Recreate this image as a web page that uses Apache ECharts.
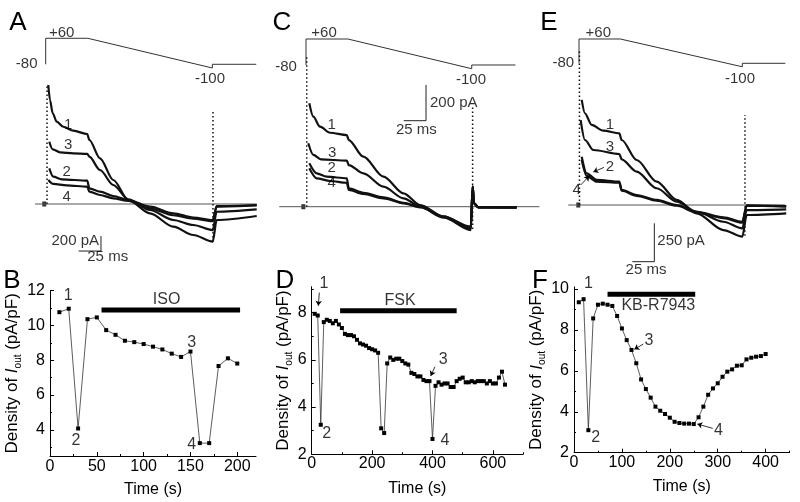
<!DOCTYPE html>
<html>
<head>
<meta charset="utf-8">
<script src="https://cdn.jsdelivr.net/npm/echarts@6/dist/echarts.min.js"></script>
<style>
html,body{margin:0;padding:0;background:#fff}
#main{width:800px;height:502px}
</style>
</head>
<body>
<div id="main"></div>
<script>
var FONT = 'Liberation Sans';

// voltage protocol (ms, mV)
var PROTO_T  = [0, 0, 47, 186, 186, 235];
var PROTO_MV = [-80, 60, 60, -100, -80, -80];

// ---- A : control / ISO current traces (ms, pA) ----
var A_TR1 = [[2.9,1586],[4.8,1386],[7.8,1209],[12.3,1097],[19.6,1030],[30.8,977],[46.4,933],[48.7,853],[60.6,609],[75.4,320],[92.2,53],[116.4,-124],[142.4,-302],[164.7,-413],[186.4,-502],[190.8,-213],[235.5,-160]];
var A_TR3 = [[4.0,830],[7.8,729],[16,689],[30.8,676],[46.4,667],[48.7,631],[60.6,453],[75.4,253],[92.2,62],[116.4,-80],[142.4,-213],[164.7,-280],[186.4,-347],[190.8,-103],[235.5,-71]];
var A_TR2 = [[4.0,476],[8.5,364],[17.9,329],[46.4,311],[48.7,209],[60.6,164],[75.4,107],[92.2,53],[116.4,-36],[142.4,-124],[164.7,-180],[186.4,-215],[190.8,-27],[235.5,-13]];
var A_TR4 = [[2.9,320],[8.5,267],[23.4,249],[46.4,231],[48.7,164],[60.6,120],[75.4,76],[92.2,40],[116.4,-57],[142.4,-150],[164.7,-195],[186.4,-228],[190.8,-35],[235.5,-20]];
var A_SPIKES = [[1.5, 0, 1586], [186.7, -500, 1230]];

// ---- C : FSK ----
var C_TR1 = [[3.7,579],[8.2,504],[15.7,448],[27,414],[45.8,401],[48,373],[64.4,280],[86.9,168],[109.4,75],[128.4,9],[154.6,-56],[184.9,-121],[187.1,112],[188.5,19],[193.4,-3],[236.4,-3]];
var C_TR3 = [[2.6,355],[8.2,290],[16.8,265],[45.8,258],[48,233],[64.4,187],[86.9,112],[109.4,47],[128.4,0],[154.6,-56],[184.9,-112],[187.1,112],[188.5,19],[193.4,-3],[236.4,-3]];
var C_TR2 = [[3.7,243],[12,187],[23.2,168],[45.8,159],[48,103],[64.4,78],[86.9,53],[109.4,22],[128.4,-3],[154.6,-56],[184.9,-121],[187.1,112],[188.5,19],[193.4,-3],[236.4,-5]];
var C_TR4 = [[3.7,215],[12,159],[27,144],[45.8,134],[48,94],[64.4,71],[86.9,47],[109.4,19],[128.4,-3],[154.6,-62],[184.9,-131],[187.1,112],[188.5,19],[193.4,-5],[236.4,-6]];
var C_SPIKES = [[0.8, 0, 840], [187, -125, 560]];

// ---- E : KB-R7943 ----
var E_TR1 = [[3.1,684],[6.8,597],[14.4,521],[27.7,484],[45.9,467],[48.6,423],[65.7,293],[88.5,152],[111.3,33],[134,-54],[164.4,-163],[186,-206],[191,-65],[236,-54]];
var E_TR3 = [[1.9,553],[6.8,423],[16.3,358],[45.9,332],[48.6,297],[65.7,217],[88.5,109],[111.3,22],[134,-44],[164.4,-109],[186,-152],[191,-33],[236,-28]];
var E_TR2 = [[3.1,314],[8.8,206],[20.2,163],[45.9,152],[48.6,98],[65.7,65],[88.5,33],[111.3,0],[134,-44],[164.4,-80],[186,-109],[191,-2],[236,-7]];
var E_TR4 = [[3.1,293],[8.8,189],[20.2,152],[45.9,145],[48.6,93],[65.7,60],[88.5,28],[111.3,-5],[134,-49],[164.4,-85],[186,-115],[191,-5],[236,-10]];
var E_SPIKES = [[0.5, 0, 1009], [189, -200, 586]];

// ---- B / D / F : density of Iout vs time ----
var B_TIME = [10,20,30,40,50,60,70,80,90,100,110,120,130,140,150,160,170,180,190,200];
var B_DENS = [10.76,10.96,4.08,10.36,10.46,9.73,9.46,9.12,9.04,8.93,8.78,8.62,8.38,8.19,8.5,3.24,3.24,7.67,8.11,7.81];

var D_TIME = [10,20,30,40,50,60,70,80,90,100,110,120,130,140,150,160,170,180,190,200,
              210,220,230,240,250,260,270,280,290,300,310,320,330,340,350,360,370,380,390,400,
              410,420,430,440,450,460,470,480,490,500,510,520,530,540,550,560,570,580,590,600,
              610,620,630,640];
var D_DENS = [7.95,7.88,3.25,7.6,7.7,7.65,7.55,7.65,7.5,7.35,7.1,7.05,7.05,7.0,6.85,6.7,6.65,6.6,6.5,6.45,
              6.4,6.3,3.1,2.9,5.85,6.1,6.0,6.05,6.05,5.95,5.85,5.8,5.45,5.4,5.3,5.3,5.15,5.1,5.1,2.65,
              4.9,5.05,4.95,5.0,5.0,4.85,4.85,5.1,5.2,5.25,5.05,5.05,5.1,5.05,5.1,5.1,5.1,5.0,5.1,5.0,
              5.0,5.25,5.5,4.95];

var F_TIME = [10,20,30,40,50,60,70,80,90,100,110,120,130,140,150,160,170,180,190,200,
              210,220,230,240,250,260,270,280,290,300,310,320,330,340,350,360,370,380,390,400];
var F_DENS = [9.35,9.5,3.1,8.56,9.23,9.28,9.23,9.17,8.68,8.07,7.5,7.02,6.37,5.58,5.11,4.69,4.25,4.05,3.89,3.71,
              3.51,3.45,3.42,3.42,3.4,3.73,4.25,4.83,5.14,5.39,5.71,5.96,6.07,6.25,6.27,6.56,6.64,6.69,6.72,6.82];

// drug bars: [start s, end s, level]
var ISO_BAR = [55, 203, 10.89];
var FSK_BAR = [94, 480, 8.08];
var KB_BAR  = [70, 253, 9.74];

function pairs(ts, vs) {
    return ts.map(function (t, i) { return [t, vs[i]]; });
}

function textSeries(xi, yi, items, size) {
    return {
        type: 'scatter', xAxisIndex: xi, yAxisIndex: yi, symbolSize: 0, silent: true, clip: false, z: 6,
        data: items.map(function (it) {
            return { value: [it[1], it[2]], name: it[0], label: { align: it[3] || 'center' } };
        }),
        label: { show: true, position: 'inside', formatter: '{b}', color: '#000', fontSize: size || 15, fontFamily: FONT }
    };
}

function arrowSeries(xi, yi, arrows) {
    return {
        type: 'line', xAxisIndex: xi, yAxisIndex: yi, data: [], silent: true,
        markLine: {
            silent: true, symbol: ['none', 'arrow'], symbolSize: 5, label: { show: false },
            lineStyle: { color: '#000', width: 0.8, type: 'solid' },
            data: arrows.map(function (a) { return [{ coord: a[0] }, { coord: a[1] }]; })
        }
    };
}

function lineSeries(xi, yi, data, width, color, extra) {
    var s = {
        type: 'line', xAxisIndex: xi, yAxisIndex: yi, data: data, showSymbol: false, symbol: 'none',
        silent: true, lineStyle: { color: color || '#111', width: width || 1 }
    };
    for (var k in extra) s[k] = extra[k];
    return s;
}

var grids = [
    { left: 5, top: 25, width: 255, height: 250 },      // A
    { left: 265, top: 25, width: 275, height: 250 },    // C
    { left: 540, top: 25, width: 255, height: 250 },    // E
    { left: 50, top: 290.6, width: 206, height: 165.4 },  // B
    { left: 311.7, top: 286.7, width: 211.4, height: 167.6 }, // D
    { left: 574, top: 286.9, width: 215.6, height: 165.8 }    // F
];

var xAxes = [], yAxes = [], series = [];

// ---------------- top panels ----------------
var tops = [
    { g: 0, t: [-45.42, 239.17], i: [-946.4, 2386.1], v: [-1214.6, 131.6],
      traces: [A_TR1, A_TR3, A_TR2, A_TR4], spikes: A_SPIKES, zero: [-11.9, 235.5], dot: -1.6,
      bar: { at: [61.7, -627], ms: 25, pA: 200 },
      texts: [['1', 25.2, 1053], ['3', 25.2, 786], ['2', 23.5, 431], ['4', 23.5, 97],
              ['200 pA', 59.5, -489, 'right'], ['25 ms', 69.2, -702]],
      vtexts: [['+60', 17.9, 90], ['-80', -21.2, -80], ['-100', 183.4, -161]], arrows: [] },
    { g: 1, t: [-46.02, 262.63], i: [-382.5, 1017.5], v: [-1210.9, 135.4],
      traces: [C_TR1, C_TR3, C_TR2, C_TR4], spikes: C_SPIKES, zero: [-30, 262], dot: -3,
      bar: { at: [134.7, 481.6], ms: 25, pA: 200 },
      texts: [['1', 28.8, 457], ['3', 29.5, 302], ['2', 28.8, 215], ['4', 28.8, 131],
              ['200 pA', 139.2, 579, 'left'], ['25 ms', 123.9, 429.5]],
      vtexts: [['+60', 20.2, 94], ['-80', -22.4, -89], ['-100', 185.2, -161]], arrows: [] },
    { g: 2, t: [-44.42, 246.01], i: [-455.7, 1171.8], v: [-1299.4, 140.6],
      traces: [E_TR1, E_TR3, E_TR2, E_TR4], spikes: E_SPIKES, zero: [-12.2, 234.6], dot: -0.8,
      bar: { at: [85.8, -369], ms: 25, pA: 250 },
      texts: [['1', 35.3, 521], ['3', 35.3, 380], ['2', 35.3, 249], ['4', -2.6, 98],
              ['250 pA', 89.2, -234, 'left'], ['25 ms', 76.3, -423]],
      vtexts: [['+60', 22, 96], ['-80', -17.9, -80], ['-100', 183.4, -172]],
      arrows: [[[28.5, 245], [16.3, 215]], [[1.9, 130], [11.7, 189]]] }
];

tops.forEach(function (p) {
    var xi = xAxes.length, yi = yAxes.length, vi = yi + 1;
    xAxes.push({ gridIndex: p.g, type: 'value', min: p.t[0], max: p.t[1], show: false });
    yAxes.push({ gridIndex: p.g, type: 'value', min: p.i[0], max: p.i[1], show: false });
    yAxes.push({ gridIndex: p.g, type: 'value', min: p.v[0], max: p.v[1], show: false });

    // protocol
    series.push(lineSeries(xi, vi, pairs(PROTO_T, PROTO_MV), 1, '#333'));
    // zero current line
    series.push(lineSeries(xi, yi, [[p.zero[0], 0], [p.zero[1], 0]], 1, '#555'));
    series.push({ type: 'scatter', xAxisIndex: xi, yAxisIndex: yi, symbol: 'rect', symbolSize: [4, 5],
                  itemStyle: { color: '#000' }, data: [[p.dot, 0]], silent: true });
    // capacitive spikes
    p.spikes.forEach(function (s) {
        series.push(lineSeries(xi, yi, [[s[0], s[1]], [s[0], s[2]]], 1.5, '#111',
                    { lineStyle: { color: '#111', width: 1.5, type: [1.5, 2.5] } }));
    });
    // current traces
    p.traces.forEach(function (tr) {
        series.push(lineSeries(xi, yi, tr, 2.2, '#111', { smooth: 0.3, smoothMonotone: 'x' }));
    });
    // scale bar
    var b = p.bar;
    series.push(lineSeries(xi, yi, [[b.at[0] - b.ms, b.at[1]], [b.at[0], b.at[1]], [b.at[0], b.at[1] + b.pA]], 1, '#222'));
    series.push(textSeries(xi, yi, p.texts, 15));
    series.push(textSeries(xi, vi, p.vtexts, 15));
    if (p.arrows.length) series.push(arrowSeries(xi, yi, p.arrows));
});

// ---------------- bottom panels ----------------
var DENS_NAME = '{t|Density of }{i|I}{s|out}{t| (pA/pF)}';
var nameStyle = {
    color: '#000', fontSize: 17, fontFamily: FONT,
    rich: {
        t: { fontSize: 17, fontFamily: FONT, color: '#000', lineHeight: 21 },
        i: { fontSize: 17, fontFamily: FONT, color: '#000', fontStyle: 'italic', lineHeight: 21 },
        s: { fontSize: 10, fontFamily: FONT, color: '#000', verticalAlign: 'bottom', lineHeight: 21 }
    }
};

var bottoms = [
    { g: 3, x: [0, 220], xMaj: [0, 50, 100, 150, 200], xMin: [25, 75, 125, 175],
      y: [2.5, 12], yMaj: [4, 6, 8, 10, 12], yMin: [3, 5, 7, 9, 11], yGap: 27, xMargin: 3,
      data: pairs(B_TIME, B_DENS), bar: ISO_BAR,
      texts: [['1', 19.5, 11.7], ['2', 27.7, 3.38], ['3', 151.2, 9.03], ['4', 151.2, 3.15], ['ISO', 124.5, 11.47]],
      arrows: [] },
    { g: 4, x: [0, 700], xMaj: [0, 200, 400, 600], xMin: [100, 300, 500, 700],
      y: [2, 9.1], yMaj: [2, 4, 6, 8], yMin: [3, 5, 7, 9], yGap: 11, xMargin: 1,
      data: pairs(D_TIME, D_DENS), bar: FSK_BAR,
      texts: [['1', 40.7, 9.22], ['2', 49.7, 2.89], ['3', 435.8, 6.03], ['4', 441.4, 2.6], ['FSK', 292.4, 8.51]],
      arrows: [[[25.2, 8.85], [21.9, 8.29]], [[408.3, 5.71], [394, 5.32]]] },
    { g: 5, x: [0, 450], xMaj: [0, 100, 200, 300, 400], xMin: [50, 150, 250, 350, 450],
      y: [2, 10.1], yMaj: [2, 4, 6, 8, 10], yMin: [3, 5, 7, 9], yGap: 17, xMargin: 2,
      data: pairs(F_TIME, F_DENS), bar: KB_BAR,
      texts: [['1', 29.9, 10.28], ['2', 45.2, 2.75], ['3', 156.6, 7.5], ['4', 301.3, 3.07], ['KB-R7943', 176, 9.17]],
      arrows: [[[144.7, 7.31], [125.9, 7.05]], [[289.5, 3.19], [257.4, 3.4]]] }
];

bottoms.forEach(function (p) {
    var xi = xAxes.length, yi = yAxes.length;
    xAxes.push({
        gridIndex: p.g, type: 'value', min: p.x[0], max: p.x[1], position: 'bottom',
        axisLine: { show: true, onZero: false, lineStyle: { color: '#000', width: 1 } },
        axisTick: { show: true, inside: true, length: 4, customValues: p.xMaj, lineStyle: { color: '#000' } },
        axisLabel: { customValues: p.xMaj, margin: p.xMargin, color: '#000', fontSize: 16, fontFamily: FONT },
        splitLine: { show: false },
        name: 'Time (s)', nameLocation: 'middle', nameGap: 26,
        nameTextStyle: { color: '#000', fontSize: 16, fontFamily: FONT }
    });
    xAxes.push({
        gridIndex: p.g, type: 'value', min: p.x[0], max: p.x[1], position: 'bottom',
        axisLine: { show: false, onZero: false },
        axisTick: { show: true, inside: true, length: 2, customValues: p.xMin, lineStyle: { color: '#000' } },
        axisLabel: { show: false }, splitLine: { show: false }
    });
    yAxes.push({
        gridIndex: p.g, type: 'value', min: p.y[0], max: p.y[1], position: 'left',
        axisLine: { show: true, onZero: false, lineStyle: { color: '#000', width: 1 } },
        axisTick: { show: true, inside: true, length: 4, customValues: p.yMaj, lineStyle: { color: '#000' } },
        axisLabel: { customValues: p.yMaj, margin: 5, color: '#000', fontSize: 16, fontFamily: FONT },
        splitLine: { show: false },
        name: DENS_NAME, nameLocation: 'middle', nameGap: p.yGap, nameTextStyle: nameStyle
    });
    yAxes.push({
        gridIndex: p.g, type: 'value', min: p.y[0], max: p.y[1], position: 'left',
        axisLine: { show: false, onZero: false },
        axisTick: { show: true, inside: true, length: 2, customValues: p.yMin, lineStyle: { color: '#000' } },
        axisLabel: { show: false }, splitLine: { show: false }
    });

    series.push({
        type: 'line', xAxisIndex: xi, yAxisIndex: yi, data: p.data, silent: true,
        symbol: 'rect', symbolSize: 4, showSymbol: true,
        itemStyle: { color: '#000' }, lineStyle: { color: '#333', width: 0.8 }
    });
    series.push(lineSeries(xi, yi, [[p.bar[0], p.bar[2]], [p.bar[1], p.bar[2]]], 5, '#000'));
    series.push(textSeries(xi, yi, p.texts, 16));
    if (p.arrows.length) series.push(arrowSeries(xi, yi, p.arrows));
});

// panel letters
var letters = [['A', 18, 23], ['C', 282, 23], ['E', 549, 23], ['B', 12, 281], ['D', 285, 281], ['F', 540, 281]];

var option = {
    backgroundColor: '#fff',
    animation: false,
    grid: grids,
    xAxis: xAxes,
    yAxis: yAxes,
    series: series,
    graphic: letters.map(function (l) {
        return { type: 'text', x: l[1], y: l[2], silent: true,
                 style: { text: l[0], fill: '#000', font: '26px "' + FONT + '"', align: 'center', verticalAlign: 'middle' } };
    })
};

var chart = echarts.init(document.getElementById('main'));
chart.setOption(option);
</script>
</body>
</html>
